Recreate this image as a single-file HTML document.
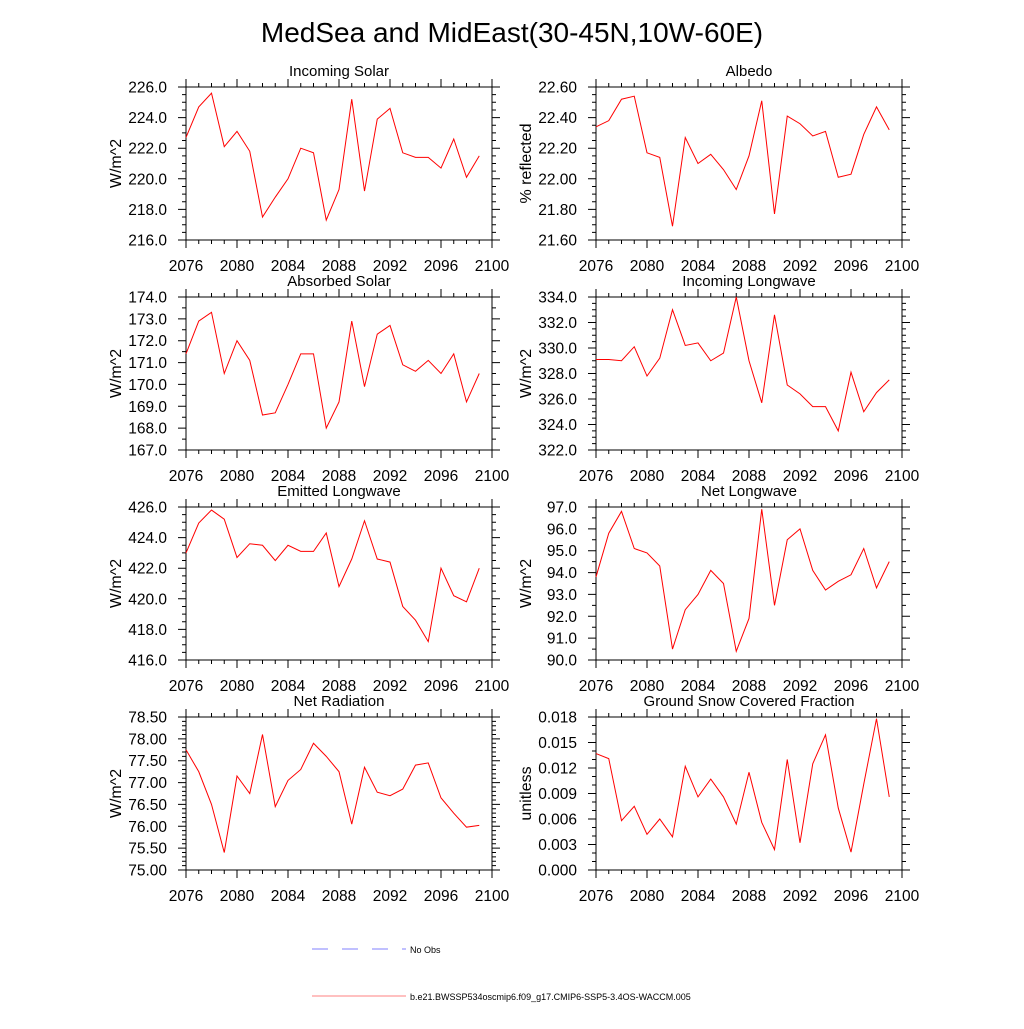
<!DOCTYPE html>
<html><head><meta charset="utf-8"><style>
body{margin:0;background:#fff;font-family:"Liberation Sans",sans-serif}
</style></head><body>
<svg id="svg" width="1024" height="1024" xmlns="http://www.w3.org/2000/svg" font-family="Liberation Sans, sans-serif">
<rect width="1024" height="1024" fill="#fff"/>
<text x="512" y="42" font-size="28" text-anchor="middle">MedSea and MidEast(30-45N,10W-60E)</text>
<g>
<line x1="312" y1="949" x2="406" y2="949" stroke="#8080ff" stroke-width="1" stroke-dasharray="16,14"/>
<text x="410" y="953" font-size="9">No Obs</text>
<line x1="312" y1="996" x2="406" y2="996" stroke="#ff8080" stroke-width="1"/>
<text x="410" y="1000" font-size="9">b.e21.BWSSP534oscmip6.f09_g17.CMIP6-SSP5-3.4OS-WACCM.005</text>
</g>
</svg>
<script>
const years=[2076,2077,2078,2079,2080,2081,2082,2083,2084,2085,2086,2087,2088,2089,2090,2091,2092,2093,2094,2095,2096,2097,2098,2099];
const xTicks=[2076,2080,2084,2088,2092,2096,2100];
const incomingSolar=[222.7,224.7,225.6,222.1,223.1,221.8,217.5,218.8,220.0,222.0,221.7,217.3,219.3,225.2,219.2,223.9,224.6,221.7,221.4,221.4,220.7,222.6,220.1,221.5];
const albedo=[22.34,22.38,22.52,22.54,22.17,22.14,21.69,22.27,22.10,22.16,22.06,21.93,22.15,22.51,21.77,22.41,22.36,22.28,22.31,22.01,22.03,22.29,22.47,22.32];
const absorbedSolar=[171.4,172.9,173.3,170.5,172.0,171.1,168.6,168.7,170.0,171.4,171.4,168.0,169.2,172.9,169.9,172.3,172.7,170.9,170.6,171.1,170.5,171.4,169.2,170.5];
const incomingLW=[329.1,329.1,329.0,330.1,327.8,329.2,333.0,330.2,330.4,329.0,329.6,334.0,329.0,325.7,332.6,327.1,326.4,325.4,325.4,323.5,328.1,325.0,326.5,327.5];
const emittedLW=[423.0,424.95,425.8,425.2,422.7,423.6,423.5,422.5,423.5,423.1,423.1,424.3,420.8,422.6,425.1,422.6,422.4,419.5,418.6,417.2,422.0,420.2,419.8,422.0];
const netLW=[93.8,95.8,96.8,95.1,94.9,94.3,90.5,92.3,93.0,94.1,93.5,90.4,91.9,96.9,92.5,95.5,96.0,94.1,93.2,93.6,93.9,95.1,93.3,94.5];
const netRad=[77.75,77.25,76.5,75.4,77.15,76.75,78.1,76.45,77.05,77.3,77.9,77.6,77.25,76.05,77.35,76.78,76.7,76.85,77.4,77.45,76.65,76.3,75.98,76.02];
const snowFrac=[0.0137,0.0131,0.0058,0.0075,0.0042,0.0060,0.0039,0.0122,0.0086,0.0107,0.0086,0.0054,0.0115,0.0056,0.0024,0.0130,0.0032,0.0125,0.0159,0.0073,0.0021,0.0101,0.0178,0.0086];
const isTicks=[216,218,220,222,224,226];
const alTicks=[21.6,21.8,22.0,22.2,22.4,22.6];
const asTicks=[167,168,169,170,171,172,173,174];
const ilTicks=[322,324,326,328,330,332,334];
const elTicks=[416,418,420,422,424,426];
const nlTicks=[90,91,92,93,94,95,96,97];
const nrTicks=[75,75.5,76,76.5,77,77.5,78,78.5];
const snTicks=[0,0.003,0.006,0.009,0.012,0.015,0.018];

const panels=[
 {name:"incoming-solar",title:"Incoming Solar",yl:"W/m^2",data:incomingSolar,ticks:isTicks,dec:1,minor:4,col:0,row:0},
 {name:"albedo",title:"Albedo",yl:"% reflected",data:albedo,ticks:alTicks,dec:2,minor:4,col:1,row:0},
 {name:"absorbed-solar",title:"Absorbed Solar",yl:"W/m^2",data:absorbedSolar,ticks:asTicks,dec:1,minor:2,col:0,row:1},
 {name:"incoming-longwave",title:"Incoming Longwave",yl:"W/m^2",data:incomingLW,ticks:ilTicks,dec:1,minor:4,col:1,row:1},
 {name:"emitted-longwave",title:"Emitted Longwave",yl:"W/m^2",data:emittedLW,ticks:elTicks,dec:1,minor:4,col:0,row:2},
 {name:"net-longwave",title:"Net Longwave",yl:"W/m^2",data:netLW,ticks:nlTicks,dec:1,minor:2,col:1,row:2},
 {name:"net-radiation",title:"Net Radiation",yl:"W/m^2",data:netRad,ticks:nrTicks,dec:2,minor:5,col:0,row:3},
 {name:"ground-snow",title:"Ground Snow Covered Fraction",yl:"unitless",data:snowFrac,ticks:snTicks,dec:3,minor:3,col:1,row:3}
];
const NS="http://www.w3.org/2000/svg";
const svg=document.getElementById('svg');
function mk(tag,attrs,parent){const e=document.createElementNS(NS,tag);for(const k in attrs)e.setAttribute(k,attrs[k]);parent.appendChild(e);return e;}
panels.forEach(p=>{
 const L=p.col?596:186, R=p.col?902:492, T=87+p.row*210, B=T+153;
 const g=mk('g',{},svg);
 
 
 const y0=p.ticks[0], y1=p.ticks[p.ticks.length-1];
 const xs=v=>L+(v-2076)/24*(R-L);
 const ys=v=>B-(v-y0)/(y1-y0)*(B-T);
 const t=mk('text',{x:(L+R)/2,y:T-11,'font-size':15,'text-anchor':'middle'},g);t.textContent=p.title;
 
 
 const fr=mk('rect',{x:L,y:T,width:R-L,height:B-T,fill:'none',stroke:'#000','stroke-width':1},g);
 
 
 let d='';
 for(let yr=2076;yr<=2100;yr++){const x=xs(yr),len=(yr%4==0)?8:4;d+=`M${x},${B}v${len}M${x},${T}v${-len}`;}
 const n=p.ticks.length-1;
 for(let i=0;i<=n*p.minor;i++){const y=B-i/(n*p.minor)*(B-T),len=(i%p.minor==0)?8:4;d+=`M${L},${y}h${-len}M${R},${y}h${len}`;}
 const tk=mk('path',{d:d,stroke:'#000','stroke-width':1,fill:'none'},g);
 
 
 xTicks.forEach(v=>{const e=mk('text',{x:xs(v),y:B+31,'font-size':15.5,'text-anchor':'middle'},g);e.textContent=v;
  
  });
 p.ticks.forEach(v=>{const e=mk('text',{x:L-19,y:ys(v)+5.5,'font-size':15.5,'text-anchor':'end'},g);e.textContent=v.toFixed(p.dec);
  
  });
 const yt=mk('text',{x:0,y:0,'font-size':16,'text-anchor':'middle',transform:`translate(${L-65},${(T+B)/2}) rotate(-90)`},g);yt.textContent=p.yl;
 
 
 const pts=p.data.map((v,i)=>xs(years[i])+','+ys(v)).join(' ');
 const ln=mk('polyline',{points:pts,fill:'none',stroke:'#ff0000','stroke-width':1},g);
 
 
});
</script>
</body></html>
